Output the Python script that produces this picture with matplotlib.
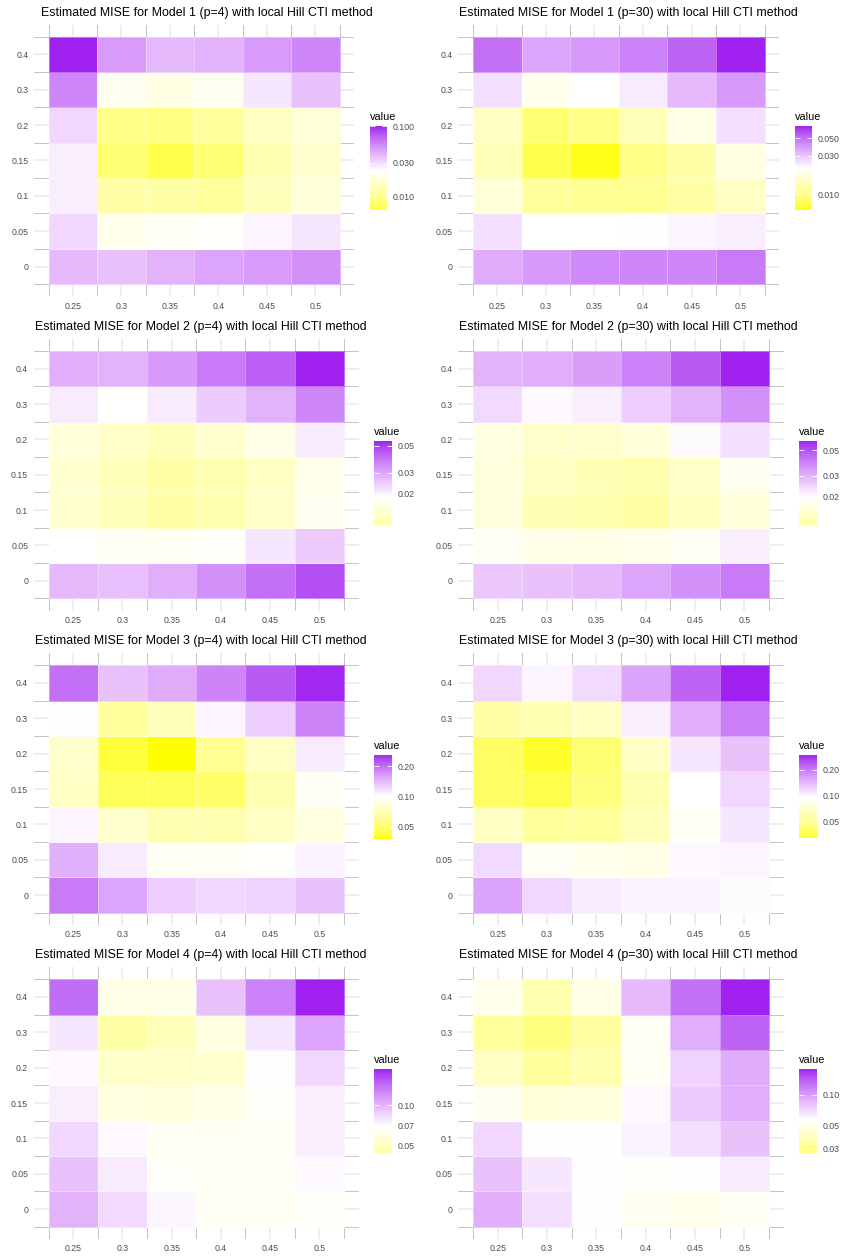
import numpy as np
import matplotlib
matplotlib.use("Agg")
import matplotlib.pyplot as plt
from matplotlib.colors import ListedColormap, LogNorm, to_rgb
from matplotlib.ticker import NullLocator

plt.rcParams['font.family'] = ['Liberation Sans', 'DejaVu Sans']

# axis categories
x_labels = ["0.25", "0.3", "0.35", "0.4", "0.45", "0.5"]
y_labels = ["0", "0.05", "0.1", "0.15", "0.2", "0.3", "0.4"]

# estimated MISE, rows go from y=0 (bottom) to y=0.4 (top)
m1_p4 = [
    [0.0384, 0.0357, 0.0401, 0.0444, 0.0478, 0.0515],
    [0.0308, 0.0198, 0.0213, 0.0222, 0.0246, 0.0273],
    [0.0258, 0.0118, 0.0118, 0.0110, 0.0137, 0.0171],
    [0.0258, 0.0082, 0.0065, 0.0082, 0.0127, 0.0158],
    [0.0308, 0.0095, 0.0092, 0.0110, 0.0147, 0.0171],
    [0.0554, 0.0204, 0.0184, 0.0204, 0.0273, 0.0357],
    [0.1000, 0.0478, 0.0384, 0.0401, 0.0478, 0.0554],
]
m1_p30 = [
    [0.0350, 0.0386, 0.0425, 0.0436, 0.0436, 0.0462],
    [0.0253, 0.0211, 0.0210, 0.0212, 0.0224, 0.0232],
    [0.0166, 0.0115, 0.0108, 0.0108, 0.0123, 0.0147],
    [0.0138, 0.0076, 0.0065, 0.0102, 0.0123, 0.0176],
    [0.0147, 0.0091, 0.0102, 0.0138, 0.0183, 0.0253],
    [0.0253, 0.0187, 0.0211, 0.0238, 0.0322, 0.0386],
    [0.0492, 0.0363, 0.0386, 0.0446, 0.0523, 0.0706],
]
m2_p4 = [
    [0.0272, 0.0263, 0.0287, 0.0338, 0.0398, 0.0467],
    [0.0186, 0.0174, 0.0174, 0.0181, 0.0212, 0.0244],
    [0.0143, 0.0125, 0.0111, 0.0118, 0.0136, 0.0170],
    [0.0142, 0.0127, 0.0114, 0.0120, 0.0134, 0.0167],
    [0.0150, 0.0137, 0.0127, 0.0142, 0.0163, 0.0207],
    [0.0207, 0.0186, 0.0207, 0.0244, 0.0281, 0.0357],
    [0.0287, 0.0281, 0.0320, 0.0376, 0.0433, 0.0550],
]
m2_p30 = [
    [0.0267, 0.0273, 0.0289, 0.0323, 0.0361, 0.0404],
    [0.0185, 0.0170, 0.0170, 0.0174, 0.0182, 0.0213],
    [0.0159, 0.0127, 0.0122, 0.0115, 0.0136, 0.0156],
    [0.0159, 0.0139, 0.0127, 0.0122, 0.0142, 0.0178],
    [0.0165, 0.0147, 0.0147, 0.0156, 0.0199, 0.0231],
    [0.0239, 0.0201, 0.0213, 0.0258, 0.0299, 0.0361],
    [0.0299, 0.0305, 0.0334, 0.0391, 0.0478, 0.0598],
]
m3_p4 = [
    [0.1875, 0.155, 0.127, 0.121, 0.124, 0.134],
    [0.147, 0.110, 0.0953, 0.0953, 0.098, 0.106],
    [0.105, 0.0785, 0.0679, 0.0679, 0.0748, 0.0865],
    [0.0748, 0.0461, 0.0461, 0.0484, 0.0679, 0.0953],
    [0.0785, 0.0418, 0.038, 0.0588, 0.0748, 0.110],
    [0.100, 0.0617, 0.0713, 0.105, 0.127, 0.179],
    [0.197, 0.134, 0.150, 0.179, 0.217, 0.258],
]
m3_p30 = [
    [0.158, 0.118, 0.105, 0.1008, 0.1008, 0.096],
    [0.116, 0.0887, 0.0838, 0.0819, 0.0973, 0.0996],
    [0.0665, 0.0529, 0.0529, 0.0628, 0.0907, 0.108],
    [0.0396, 0.0353, 0.0445, 0.0593, 0.094, 0.118],
    [0.0396, 0.032, 0.042, 0.0665, 0.108, 0.133],
    [0.056, 0.0593, 0.0665, 0.103, 0.149, 0.192],
    [0.118, 0.0996, 0.116, 0.158, 0.223, 0.294],
]
m4_p4 = [
    [0.101, 0.0827, 0.0718, 0.065, 0.065, 0.0669],
    [0.0933, 0.0763, 0.0669, 0.0655, 0.0655, 0.0711],
    [0.0844, 0.0711, 0.065, 0.065, 0.0655, 0.0748],
    [0.0748, 0.0593, 0.0576, 0.0612, 0.0669, 0.0748],
    [0.0711, 0.052, 0.052, 0.0537, 0.069, 0.0844],
    [0.0778, 0.044, 0.0485, 0.0593, 0.0778, 0.1085],
    [0.142, 0.0612, 0.0612, 0.0933, 0.129, 0.189],
]
m4_p30 = [
    [0.0902, 0.068, 0.0575, 0.0526, 0.0514, 0.054],
    [0.0806, 0.0658, 0.0578, 0.0556, 0.0575, 0.0643],
    [0.0720, 0.0575, 0.0575, 0.0615, 0.068, 0.0806],
    [0.0526, 0.0459, 0.0468, 0.0594, 0.0762, 0.0902],
    [0.0410, 0.0327, 0.0358, 0.054, 0.0737, 0.0922],
    [0.0327, 0.0277, 0.0335, 0.0544, 0.0902, 0.1338],
    [0.0514, 0.0366, 0.0502, 0.0853, 0.1265, 0.177],
]

panels = [m1_p4, m1_p30, m2_p4, m2_p30, m3_p4, m3_p30, m4_p4, m4_p30]
titles = ["Estimated MISE for Model %d (p=%d) with local Hill CTI method" % (m, p)
          for m in (1, 2, 3, 4) for p in (4, 30)]
# white midpoint of the diverging (log) fill scale
midpoints = [0.0229, 0.0211, 0.0186, 0.0195, 0.1, 0.094, 0.069, 0.0575]
cbar_ticks = [[0.01, 0.03, 0.1], [0.01, 0.03, 0.05], [0.02, 0.03, 0.05], [0.02, 0.03, 0.05],
              [0.05, 0.1, 0.2], [0.05, 0.1, 0.2], [0.05, 0.07, 0.1], [0.03, 0.05, 0.1]]
cbar_labels = [["0.010", "0.030", "0.100"], ["0.010", "0.030", "0.050"],
               ["0.02", "0.03", "0.05"], ["0.02", "0.03", "0.05"],
               ["0.05", "0.10", "0.20"], ["0.05", "0.10", "0.20"],
               ["0.05", "0.07", "0.10"], ["0.03", "0.05", "0.10"]]


# yellow - white - purple ramp, interpolated in Lab like ggplot does
M = np.array([[0.4124, 0.3576, 0.1805], [0.2126, 0.7152, 0.0722], [0.0193, 0.1192, 0.9505]])
WHITE = M @ np.ones(3)


def rgb_to_lab(rgb):
    c = np.array(rgb)
    lin = np.where(c <= 0.04045, c / 12.92, ((c + 0.055) / 1.055) ** 2.4)
    xyz = M @ lin / WHITE
    f = np.where(xyz > 0.008856, np.cbrt(xyz), 7.787 * xyz + 16 / 116)
    return np.array([116 * f[1] - 16, 500 * (f[0] - f[1]), 200 * (f[1] - f[2])])


def lab_to_rgb(lab):
    fy = (lab[0] + 16) / 116
    f = np.array([fy + lab[1] / 500, fy, fy - lab[2] / 200])
    xyz = np.where(f ** 3 > 0.008856, f ** 3, (f - 16 / 116) / 7.787) * WHITE
    lin = np.linalg.solve(M, xyz)
    c = np.where(lin <= 0.0031308, 12.92 * lin, 1.055 * np.clip(lin, 0, None) ** (1 / 2.4) - 0.055)
    return np.clip(c, 0, 1)


stops = [rgb_to_lab(to_rgb(h)) for h in ("#FFFF00", "#FFFFFF", "#A020F0")]
ramp = []
for t in np.linspace(0, 1, 256):
    if t < 0.5:
        lab = stops[0] + (stops[1] - stops[0]) * (t / 0.5)
    else:
        lab = stops[1] + (stops[2] - stops[1]) * ((t - 0.5) / 0.5)
    ramp.append(lab_to_rgb(lab))
cmap = ListedColormap(ramp)

W, H = 842, 1258
fig = plt.figure(figsize=(W / 100, H / 100), dpi=100)

# pixel layout of the tile area for each panel
tile_top = [36.7, 351.0, 665.3, 979.3]
tile_h = 247.5
col_x0 = [48.5, 473.0]
col_x1 = [[339.5, 344, 344, 344], [764.5, 769, 769, 769]]
bar_x = [[370, 374.3, 374.3, 374.3], [795, 799.3, 799.3, 799.3]]
bar_top = [126, 441, 755, 1069]
bar_h = 83.5
title_dx = [[7, 1, 1, 1], [1, 1, 1, 1]]

tick_col = "#4D4D4D"


def fig_rect(x0, y0, x1, y1):
    return [x0 / W, 1 - y1 / H, (x1 - x0) / W, (y1 - y0) / H]


for i, data in enumerate(panels):
    r, c = divmod(i, 2)
    vals = np.array(data)
    x0, x1 = col_x0[c], col_x1[c][r]
    y0 = tile_top[r]
    y1 = y0 + tile_h
    tw = (x1 - x0) / 6
    th = tile_h / 7
    mx, my = 0.3, 0.34
    ax = fig.add_axes(fig_rect(x0 - mx * tw, y0 - my * th, x1 + mx * tw, y1 + my * th))

    mid = midpoints[i]
    k = max(vals.max() / mid, mid / vals.min())
    norm = LogNorm(vmin=mid / k, vmax=mid * k)

    xe = np.arange(len(x_labels) + 1) - 0.5
    ye = np.arange(len(y_labels) + 1) - 0.5
    ax.pcolormesh(xe, ye, vals, cmap=cmap, norm=norm,
                  edgecolors=(1, 1, 1, 0.35), linewidth=0.5, zorder=2)

    ax.set_xlim(-0.5 - mx, len(x_labels) - 0.5 + mx)
    ax.set_ylim(-0.5 - my, len(y_labels) - 0.5 + my)
    ax.set_xticks(range(len(x_labels)))
    ax.set_xticklabels(x_labels)
    ax.set_yticks(range(len(y_labels)))
    ax.set_yticklabels(y_labels)
    ax.set_xticks(xe, minor=True)
    ax.set_yticks(ye, minor=True)
    ax.grid(which="major", color="#EBEBEB", linewidth=1.2, zorder=0)
    ax.grid(which="minor", color="#C4C4C4", linewidth=0.7, zorder=0)
    ax.set_axisbelow(True)
    ax.tick_params(which="both", length=0, labelsize=6.3, labelcolor=tick_col, pad=4)
    for s in ax.spines.values():
        s.set_visible(False)

    fig.text((x0 - mx * tw + title_dx[c][r]) / W, 1 - (y0 - 24) / H, titles[i],
             fontsize=8.95, ha="left", va="center", color="black")

    # colour bar for this panel
    bx = bar_x[c][r]
    bt = bar_top[r]
    cax = fig.add_axes(fig_rect(bx, bt, bx + 17.4, bt + bar_h))
    levels = np.logspace(np.log10(vals.min()), np.log10(vals.max()), 200)
    cax.pcolormesh([0, 1], levels, levels[:-1, None] * np.ones((1, 1)),
                   cmap=cmap, norm=norm, shading="flat")
    cax.set_yscale("log")
    cax.set_ylim(vals.min(), vals.max())
    cax.set_xlim(0, 1)
    cax.set_xticks([])
    cax.yaxis.set_minor_locator(NullLocator())
    cax.set_yticks(cbar_ticks[i])
    cax.set_yticklabels(cbar_labels[i])
    cax.yaxis.tick_right()
    cax.tick_params(axis="y", which="major", direction="in", length=3.5, width=0.6,
                    color="white", labelsize=6.3, labelcolor=tick_col, pad=4,
                    left=True, right=True)
    for s in cax.spines.values():
        s.set_visible(False)
    fig.text(bx / W, 1 - (bt - 9) / H, "value", fontsize=7.8, ha="left", va="center")

fig.savefig("out.png", dpi=100, facecolor="white")
